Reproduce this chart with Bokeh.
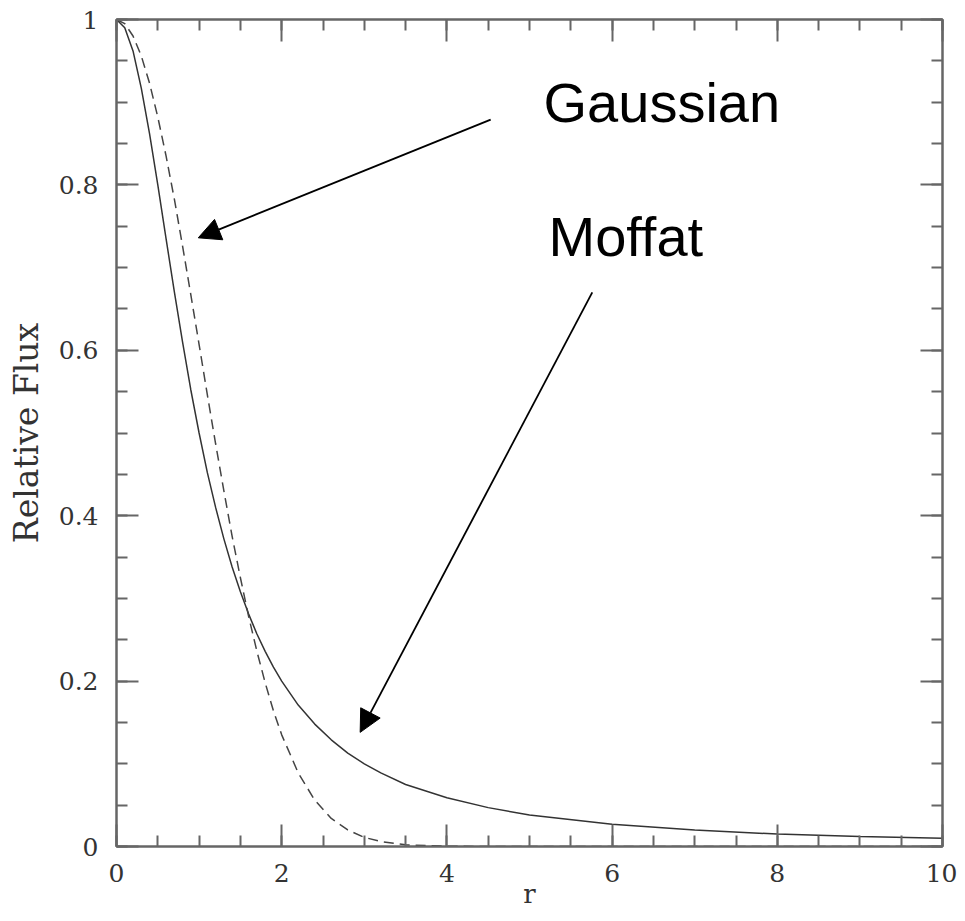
from bokeh.plotting import figure
from bokeh.models import LinearAxis, FixedTicker, Arrow, NormalHead, Label, Range1d, CustomJSTickFormatter
from bokeh.embed import file_html
from bokeh.resources import INLINE

# Data
r_vals = [0, 0.1, 0.2, 0.3, 0.4, 0.5, 0.6, 0.7, 0.8, 0.9, 1.0, 1.1, 1.2, 1.3, 1.4,
          1.5, 1.6, 1.7, 1.8, 1.9, 2.0, 2.2, 2.4, 2.6, 2.8, 3.0, 3.2, 3.5, 4.0,
          4.5, 5.0, 6.0, 7.0, 8.0, 9.0, 10.0]
moffat = [1.0, 0.990, 0.962, 0.917, 0.862, 0.800, 0.735, 0.671, 0.610, 0.552, 0.500,
          0.452, 0.410, 0.372, 0.338, 0.308, 0.281, 0.257, 0.236, 0.217, 0.200,
          0.171, 0.148, 0.129, 0.113, 0.100, 0.089, 0.075, 0.059, 0.047, 0.038,
          0.027, 0.020, 0.015, 0.012, 0.010]
gaussian = [1.0, 0.995, 0.980, 0.956, 0.923, 0.882, 0.835, 0.783, 0.726, 0.667, 0.607,
            0.546, 0.487, 0.430, 0.375, 0.325, 0.278, 0.236, 0.198, 0.164, 0.135,
            0.089, 0.056, 0.034, 0.020, 0.011, 0.006, 0.002, 0.0003, 0.0, 0.0,
            0.0, 0.0, 0.0, 0.0, 0.0]

x_major = [0, 2, 4, 6, 8, 10]
x_minor = [i * 0.5 for i in range(21)]
x_labels = ["0", "2", "4", "6", "8", "10"]
y_major = [0, 0.2, 0.4, 0.6, 0.8, 1.0]
y_minor = [round(i * 0.05, 2) for i in range(21)]
y_labels = ["0", "0.2", "0.4", "0.6", "0.8", "1"]

SERIF = "DejaVu Serif"
AX = "#666666"
TXT = "#333333"

p = figure(width=957, height=913, output_backend="svg", toolbar_location=None,
           x_range=Range1d(0, 10), y_range=Range1d(0, 1),
           min_border_left=116, min_border_right=15, min_border_top=19, min_border_bottom=67,
           x_axis_label="r", y_axis_label="Relative Flux")
p.grid.visible = False
p.outline_line_color = AX
p.outline_line_width = 2
p.background_fill_color = "white"
p.border_fill_color = "white"

def style_axis(ax, major, minor, labels, show_labels=True):
    ax.ticker = FixedTicker(ticks=major, minor_ticks=minor)
    ax.axis_line_color = AX
    ax.axis_line_width = 2
    ax.major_tick_line_color = AX
    ax.minor_tick_line_color = AX
    ax.major_tick_line_width = 2
    ax.minor_tick_line_width = 2
    ax.major_tick_in = 22
    ax.major_tick_out = 0
    ax.minor_tick_in = 11
    ax.minor_tick_out = 0
    ax.major_label_text_font = SERIF
    ax.major_label_text_font_size = "25px"
    ax.major_label_text_color = TXT
    ax.major_label_standoff = 18
    ax.axis_label_text_font = SERIF
    ax.axis_label_text_font_size = "26px"
    ax.axis_label_text_font_style = "normal"
    ax.axis_label_text_color = TXT
    if show_labels:
        ax.major_label_overrides = {float(k): v for k, v in zip(major, labels)}
    else:
        ax.formatter = CustomJSTickFormatter(code="return '';")
        ax.major_label_standoff = 0

style_axis(p.xaxis[0], x_major, x_minor, x_labels)
style_axis(p.yaxis[0], y_major, y_minor, y_labels)
p.xaxis[0].major_label_standoff = 17
p.xaxis[0].axis_label_standoff = -6
p.yaxis[0].axis_label_standoff = 10
p.yaxis[0].axis_label_text_font_size = "33px"

top = LinearAxis()
style_axis(top, x_major, x_minor, x_labels, show_labels=False)
p.add_layout(top, "above")
right = LinearAxis()
style_axis(right, y_major, y_minor, y_labels, show_labels=False)
p.add_layout(right, "right")

p.line(r_vals, moffat, line_color="#333333", line_width=1.5)
p.line(r_vals, gaussian, line_color="#444444", line_width=1.5, line_dash="10 6")

p.add_layout(Label(x=5.17, y=0.862, text="Gaussian", text_font="Liberation Sans",
                   text_font_size="56px", text_color="black"))
p.add_layout(Label(x=5.23, y=0.700, text="Moffat", text_font="Liberation Sans",
                   text_font_size="56px", text_color="black"))

p.add_layout(Arrow(x_start=4.53, y_start=0.879, x_end=0.99, y_end=0.736,
                   line_color="black", line_width=2,
                   end=NormalHead(size=22, fill_color="black", line_color="black")))
p.add_layout(Arrow(x_start=5.76, y_start=0.670, x_end=2.95, y_end=0.138,
                   line_color="black", line_width=1.8,
                   end=NormalHead(size=22, fill_color="black", line_color="black")))

open("out.html", "w").write(file_html(p, INLINE))
